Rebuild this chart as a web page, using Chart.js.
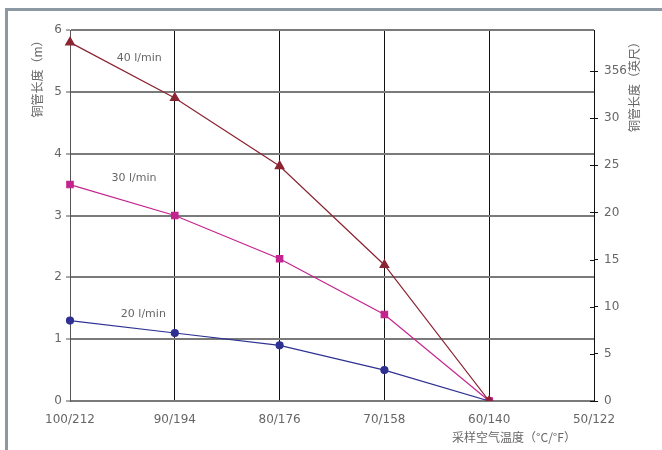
<!DOCTYPE html>
<html>
<head>
<meta charset="utf-8">
<script src="https://cdn.jsdelivr.net/npm/chart.js@4/dist/chart.umd.min.js"></script>
<style>
  html, body { margin: 0; padding: 0; background: #fff; }
  #wrap { width: 662px; height: 450px; position: relative; }
</style>
</head>
<body>
<div id="wrap"><canvas id="chart"></canvas></div>
<script>
// --- data ---
const categories = ['100/212', '90/194', '80/176', '70/158', '60/140', '50/122'];
const flow40 = [5.8, 4.9, 3.8, 2.2, 0, null];
const flow30 = [3.5, 3.0, 2.3, 1.4, 0, null];
const flow20 = [1.3, 1.1, 0.9, 0.5, 0, null];
const seriesNames = ['40 l/min', '30 l/min', '20 l/min'];
const leftTicks = [0, 1, 2, 3, 4, 5, 6];
const rightTicks = [0, 5, 10, 15, 20, 25, 30, 35];

const textGray = '#666';
const font = 'DejaVu Sans, sans-serif';
const cjk = '"Noto Sans CJK SC", sans-serif';

// frame, axis titles, series labels
const decor = {
    id: 'decor',
    beforeDraw(chart) {
        const c = chart.ctx;
        c.save();
        c.fillStyle = '#8c98a4';
        c.fillRect(5, 8, 3, 442);
        c.fillRect(5, 8, 657, 3);
        c.restore();
    },
    afterDraw(chart) {
        const c = chart.ctx;
        const x = chart.scales.x, y = chart.scales.y, y2 = chart.scales.y2;
        const area = chart.chartArea;
        c.save();

        // right axis ticks cross the axis line
        c.strokeStyle = '#111';
        c.lineWidth = 1;
        rightTicks.forEach(v => {
            const py = Math.round(y2.getPixelForValue(v)) + 0.5;
            c.beginPath();
            c.moveTo(area.right - 4, py);
            c.lineTo(area.right, py);
            c.stroke();
        });

        c.fillStyle = textGray;
        c.font = '12px ' + cjk;
        c.textAlign = 'center';
        c.textBaseline = 'middle';

        c.save();
        c.translate(37, 76);
        c.rotate(-Math.PI / 2);
        c.fillText('铜管长度（m）', 0, 0);
        c.restore();

        c.save();
        c.translate(634, 84);
        c.rotate(-Math.PI / 2);
        c.fillText('铜管长度（英尺）', 0, 0);
        c.restore();

        c.fillText('采样空气温度（°C/°F）', 514, 437);

        // series labels
        c.fillStyle = '#666';
        c.font = '11px ' + font;
        const spots = [[0.66, 5.55], [0.61, 3.6], [0.7, 1.4]];
        spots.forEach((s, i) => {
            c.fillText(seriesNames[i], x.getPixelForValue(s[0]), y.getPixelForValue(s[1]));
        });
        c.restore();
    }
};

const ctx = document.getElementById('chart');
new Chart(ctx, {
    type: 'line',
    data: {
        labels: categories,
        datasets: [
            {
                label: seriesNames[0], data: flow40,
                borderColor: '#8b2332', backgroundColor: '#8b2332',
                borderWidth: 1.2, pointStyle: 'triangle', pointRadius: 5, yAxisID: 'y'
            },
            {
                label: seriesNames[1], data: flow30,
                borderColor: '#c4248f', backgroundColor: '#c4248f',
                borderWidth: 1.2, pointStyle: 'rect', pointRadius: 4.5, yAxisID: 'y'
            },
            {
                label: seriesNames[2], data: flow20,
                borderColor: '#2e3192', backgroundColor: '#2e3192',
                borderWidth: 1.2, pointStyle: 'circle', pointRadius: 3.5, yAxisID: 'y'
            }
        ]
    },
    options: {
        responsive: true,
        maintainAspectRatio: false,
        animation: false,
        layout: { padding: { top: 30, left: 0, right: 0, bottom: 0 } },
        plugins: {
            legend: { display: false },
            tooltip: { enabled: false }
        },
        scales: {
            x: {
                offset: false,
                grid: { color: '#111', lineWidth: 1, tickLength: 0 },
                border: { display: false },
                ticks: { color: textGray, font: { family: font, size: 12 }, padding: 12, maxRotation: 0, autoSkip: false },
                afterFit(s) { s.height = 49; }
            },
            y: {
                position: 'left',
                min: 0, max: 6,
                afterBuildTicks(s) { s.ticks = leftTicks.map(v => ({ value: v })); },
                grid: { color: '#7a7a7a', lineWidth: 2, tickLength: 4, tickColor: '#555', tickWidth: 1 },
                border: { color: '#555', width: 1 },
                ticks: { color: textGray, font: { family: font, size: 12 }, padding: 4 },
                afterFit(s) { s.width = 70; }
            },
            y2: {
                position: 'right',
                min: 0, max: 39.35,
                afterBuildTicks(s) { s.ticks = rightTicks.map(v => ({ value: v })); },
                grid: { drawOnChartArea: false, tickLength: 4, tickColor: '#111' },
                border: { display: false },
                ticks: {
                    color: textGray, font: { family: font, size: 12 }, padding: 6,
                    callback: v => (v === 35 ? '356' : String(v))
                },
                afterFit(s) { s.width = 68; }
            }
        }
    },
    plugins: [decor]
});
</script>
</body>
</html>
